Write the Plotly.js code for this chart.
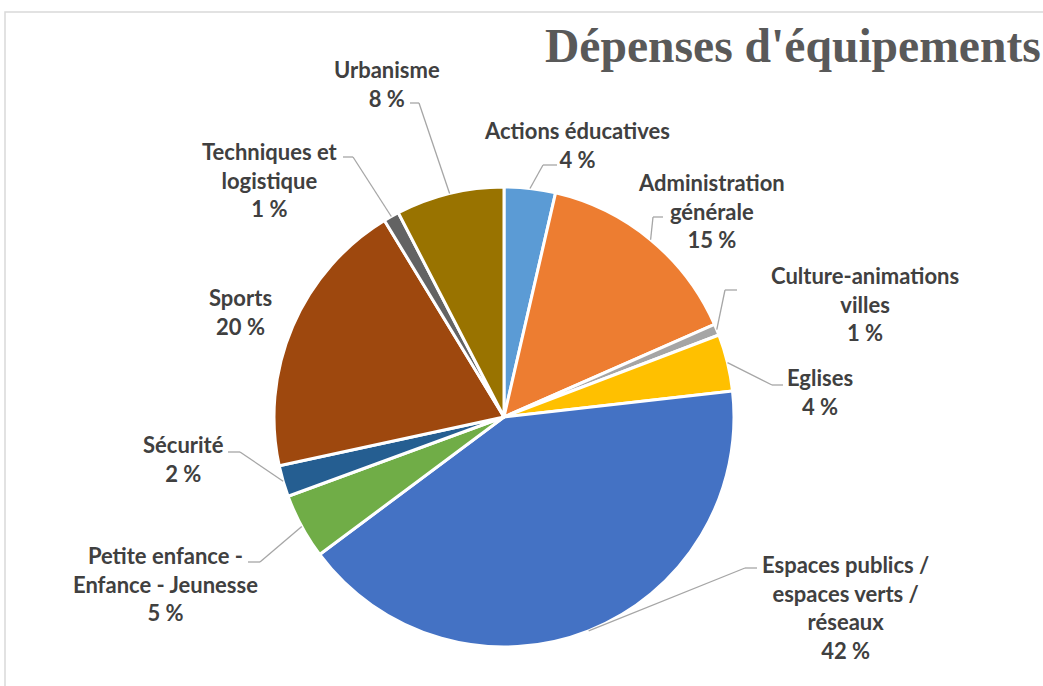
<!DOCTYPE html>
<html>
<head>
<meta charset="utf-8">
<script src="https://cdn.plot.ly/plotly-3.0.1.min.js"></script>
<style>html,body{margin:0;padding:0;background:#fff;}#chart{width:1043px;height:686px;}</style>
</head>
<body>
<div id="chart"></div>
<script>
// ---- data ----
const categories = ["Actions éducatives", "Administration générale", "Culture-animations villes", "Eglises",
  "Espaces publics / espaces verts / réseaux", "Petite enfance - Enfance - Jeunesse", "Sécurité", "Sports",
  "Techniques et logistique", "Urbanisme"];
const labelLines = ["Actions éducatives", "Administration<br>générale", "Culture-animations<br>villes", "Eglises",
  "Espaces publics /<br>espaces verts /<br>réseaux", "Petite enfance -<br>Enfance - Jeunesse", "Sécurité", "Sports",
  "Techniques et<br>logistique", "Urbanisme"];
const shares = [3.6, 14.8, 0.8, 4.0, 41.6, 4.6, 2.2, 19.7, 1.1, 7.6];
const colors = ["#5B9BD5", "#ED7D31", "#A5A5A5", "#FFC000", "#4472C4", "#70AD47", "#255E91", "#9E480E", "#636363", "#997300"];
const titleText = "Dépenses d'équipements";

// ---- layout config (pixels) ----
const W = 1043, H = 686;
const CX = 504, CY = 417, R = 230;
// label block centre [x, y], leader attach point near text [x, y], elbow [x, y] (null = no leader)
const labelPos = [
  {c: [577, 145], a: [557, 165], e: [543, 165]},
  {c: [711, 211], a: [663, 217], e: [653, 217]},
  {c: [865, 304], a: [737, 290], e: [725, 290]},
  {c: [820, 392], a: [783, 385], e: [772, 385]},
  {c: [845, 607], a: [757, 568], e: [745, 568]},
  {c: [165, 584], a: [248, 562], e: [260, 562]},
  {c: [183, 459], a: [228, 452], e: [240, 452]},
  {c: [240, 312], a: null, e: null},
  {c: [270, 180], a: [343, 157], e: [353, 157]},
  {c: [387, 84], a: [410, 103], e: [419, 103]}
];

const px = x => x / W;
const py = y => 1 - y / H;

const total = shares.reduce((s, v) => s + v, 0);
const annotations = [];
const shapes = [
  {type: 'rect', xref: 'paper', yref: 'paper', x0: px(5), x1: 1.02, y0: -0.02, y1: py(12),
   line: {color: '#D9D9D9', width: 1.5}, fillcolor: 'rgba(0,0,0,0)', layer: 'below'}
];
let cum = 0;
shares.forEach((v, i) => {
  const mid = (cum + v / 2) / total * 2 * Math.PI;
  cum += v;
  const pct = Math.round(v / total * 100);
  const lp = labelPos[i];
  annotations.push({
    xref: 'paper', yref: 'paper', x: px(lp.c[0]), y: py(lp.c[1]),
    xanchor: 'center', yanchor: 'middle', showarrow: false, align: 'center',
    text: labelLines[i] + '<br>' + pct + ' %',
    font: {family: 'Lato, "Open Sans", sans-serif', size: 22, color: '#404040', weight: 700}
  });
  if (lp.a) {
    const ex = CX + R * Math.sin(mid), ey = CY - R * Math.cos(mid);
    shapes.push({type: 'line', xref: 'paper', yref: 'paper', x0: px(lp.a[0]), y0: py(lp.a[1]), x1: px(lp.e[0]), y1: py(lp.e[1]),
      line: {color: '#A6A6A6', width: 1.3}});
    shapes.push({type: 'line', xref: 'paper', yref: 'paper', x0: px(lp.e[0]), y0: py(lp.e[1]), x1: px(ex), y1: py(ey),
      line: {color: '#A6A6A6', width: 1.3}});
  }
});

const trace = {
  type: 'pie',
  labels: categories,
  values: shares,
  sort: false,
  direction: 'clockwise',
  rotation: 0,
  textinfo: 'none',
  hoverinfo: 'label+percent',
  marker: {colors: colors, line: {color: '#FFFFFF', width: 3}},
  domain: {x: [px(CX - R), px(CX + R)], y: [py(CY + R), py(CY - R)]},
  showlegend: false
};

const layout = {
  width: W, height: H,
  margin: {l: 0, r: 0, t: 0, b: 0},
  paper_bgcolor: '#FFFFFF',
  showlegend: false,
  title: {
    text: '<b>' + titleText + '</b>',
    x: px(545), xanchor: 'left', xref: 'paper',
    y: py(45), yanchor: 'middle', yref: 'paper',
    font: {family: '"Liberation Serif", "Times New Roman", serif', size: 47.6, color: '#595959'}
  },
  annotations: annotations,
  shapes: shapes
};

Plotly.newPlot('chart', [trace], layout, {displayModeBar: false, staticPlot: true});
</script>
</body>
</html>
